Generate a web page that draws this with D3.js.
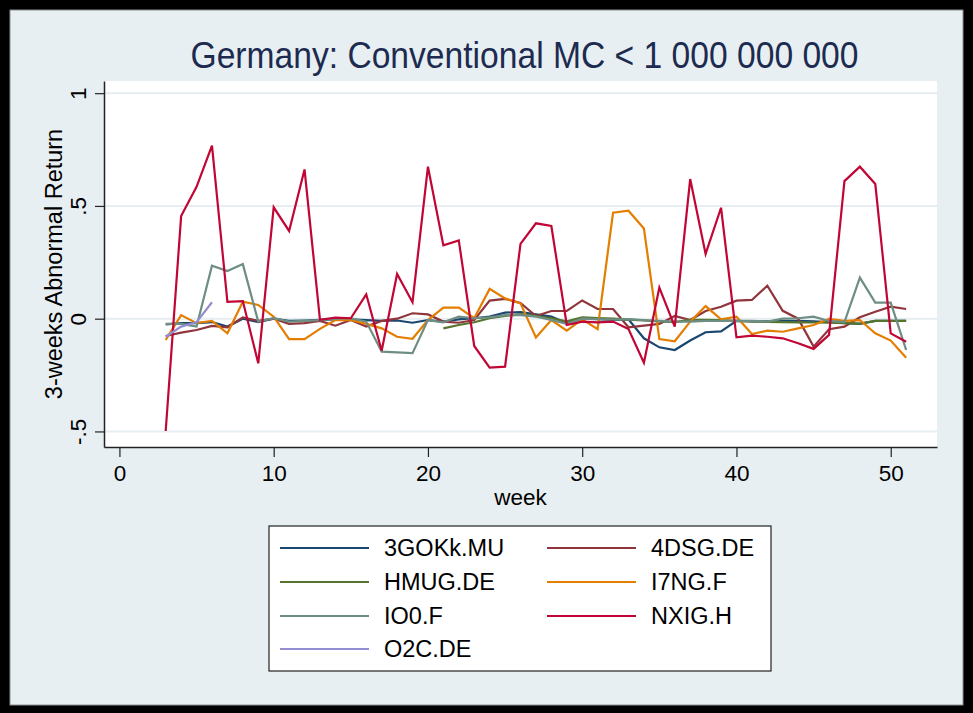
<!DOCTYPE html>
<html>
<head>
<meta charset="utf-8">
<script src="https://cdn.jsdelivr.net/npm/d3@7"></script>
<style>
  body { margin: 0; background: #000; }
  svg { display: block; font-family: "Liberation Sans", Arial, sans-serif; }
</style>
</head>
<body>
<script>
// ---- data ----
const TITLE = 'Germany: Conventional MC < 1 000 000 000'
const X_TITLE = 'week'
const Y_TITLE = '3-weeks Abnormal Return'

const xTicks = [0, 10, 20, 30, 40, 50]
const yTicks = [-0.5, 0, 0.5, 1]
const yTickLabels = ['-.5', '0', '.5', '1']

const seriesNames = ['3GOKk.MU', '4DSG.DE', 'HMUG.DE', 'I7NG.F', 'IO0.F', 'NXIG.H', 'O2C.DE']
const seriesColors = ['#1a476f', '#90353b', '#55752f', '#e37e00', '#6e8e84', '#c10534', '#938dd2']
const seriesStart = [3, 3, 21, 3, 3, 3, 3]

const gokValues = [
  -0.025, -0.02, -0.02, -0.015, -0.035, 0.0, -0.015, 0.0, -0.01, -0.008,
  -0.005, -0.003, -0.003, -0.006, -0.01, -0.008, -0.018, -0.006, -0.013, -0.003,
  0.002, 0.009, 0.027, 0.029, 0.019, 0.009, -0.02, 0.0, -0.002, -0.005,
  -0.003, -0.087, -0.127, -0.139, -0.097, -0.06, -0.056, -0.01, -0.012, -0.012,
  -0.01, -0.01, -0.012, -0.015, -0.02, -0.023, -0.01, -0.01, -0.01
]
const dsgValues = [
  -0.077, -0.062, -0.05, -0.032, -0.038, 0.006, -0.01, 0.0, -0.023, -0.02,
  -0.01, -0.031, -0.006, -0.035, -0.01, 0.0, 0.024, 0.019, -0.013, -0.018,
  -0.006, 0.08, 0.088, 0.07, 0.012, 0.034, 0.034, 0.081, 0.043, 0.043,
  -0.038, -0.031, -0.023, 0.012, -0.006, 0.034, 0.053, 0.08, 0.083, 0.146,
  0.035, 0.0, -0.124, -0.047, -0.035, 0.006, 0.031, 0.053, 0.043
]
const hmugValues = [
  -0.043, -0.028, -0.016, 0.002, 0.012, 0.019, 0.012, 0.002, -0.012, 0.006,
  0.003, 0.0, -0.004, -0.008, -0.012, -0.015, -0.005, -0.005, -0.006, -0.01,
  -0.012, -0.014, -0.015, -0.016, -0.017, -0.018, -0.02, -0.022, -0.01, -0.01,
  -0.01
]
const i7ngValues = [
  -0.094, 0.016, -0.02, -0.01, -0.065, 0.075, 0.061, 0.009, -0.091, -0.091,
  -0.045, -0.006, -0.006, -0.023, -0.043, -0.08, -0.089, -0.006, 0.049, 0.049,
  0.002, 0.132, 0.09, 0.068, -0.083, -0.006, -0.053, -0.003, -0.046, 0.47,
  0.479, 0.4, -0.09, -0.1, -0.013, 0.056, -0.003, 0.009, -0.068, -0.053,
  -0.058, -0.043, -0.028, -0.001, -0.01, -0.006, -0.065, -0.097, -0.173
]
const io0Values = [
  -0.023, -0.023, -0.035, 0.235, 0.211, 0.242, -0.013, 0.002, -0.013, -0.01,
  -0.006, -0.001, 0.002, -0.013, -0.146, -0.149, -0.153, -0.006, -0.016, 0.009,
  0.002, 0.006, 0.016, 0.016, 0.009, -0.006, -0.023, 0.0, -0.002, -0.004,
  -0.002, -0.006, -0.01, -0.013, -0.013, -0.01, -0.01, -0.01, -0.01, -0.013,
  0.0, 0.002, 0.009, -0.01, -0.015, 0.182, 0.071, 0.071, -0.139
]
const nxigValues = [
  -0.498, 0.455, 0.585, 0.767, 0.075, 0.078, -0.198, 0.494, 0.389, 0.662,
  -0.005, 0.005, 0.002, 0.108, -0.142, 0.198, 0.073, 0.674, 0.325, 0.347,
  -0.121, -0.217, -0.213, 0.332, 0.423, 0.411, -0.028, -0.013, -0.016, -0.013,
  -0.046, -0.195, 0.138, -0.035, 0.619, 0.287, 0.492, -0.083, -0.075, -0.08,
  -0.087, -0.109, -0.134, -0.072, 0.61, 0.674, 0.597, -0.065, -0.102
]
const o2cValues = [-0.08, -0.035, -0.015, 0.073]

const seriesValues = [gokValues, dsgValues, hmugValues, i7ngValues, io0Values, nxigValues, o2cValues]

// ---- layout ----
const W = 973, H = 713
const plot = { left: 104, right: 937, top: 81, bottom: 447 }
const FONT = '"Liberation Sans", Arial, sans-serif'

const svg = d3.select('body').append('svg')
  .attr('width', W)
  .attr('height', H)

// frame + graph region
svg.append('rect').attr('width', W).attr('height', H).attr('fill', '#000')
svg.append('rect')
  .attr('x', 10).attr('y', 10)
  .attr('width', W - 20).attr('height', H - 18)
  .attr('fill', '#e8eff2')
  .attr('stroke', '#8a8f92')
  .attr('stroke-width', 1)

svg.append('rect')
  .attr('x', plot.left).attr('y', plot.top)
  .attr('width', plot.right - plot.left).attr('height', plot.bottom - plot.top)
  .attr('fill', '#fff')

const x = d3.scaleLinear().domain([-1, 53]).range([plot.left, plot.right])
const y = d3.scaleLinear().domain([-0.569, 1.054]).range([plot.bottom, plot.top])

// grid
svg.append('g')
  .selectAll('line')
  .data(yTicks)
  .join('line')
  .attr('x1', plot.left).attr('x2', plot.right)
  .attr('y1', d => y(d)).attr('y2', d => y(d))
  .attr('stroke', '#e6eef1')
  .attr('stroke-width', 2)

// axes
const xAxis = svg.append('g')
  .attr('transform', `translate(0,${plot.bottom})`)
  .call(d3.axisBottom(x).tickValues(xTicks).tickSize(10).tickPadding(8).tickSizeOuter(0))
xAxis.select('.domain').attr('stroke', '#222').attr('stroke-width', 1.5)
xAxis.selectAll('.tick line').attr('stroke', '#222').attr('stroke-width', 1.2)
xAxis.selectAll('.tick text')
  .attr('font-size', 22.5)
  .attr('font-family', FONT)
  .attr('fill', '#000')

const yAxis = svg.append('g')
  .attr('transform', `translate(${plot.left},0)`)
  .call(d3.axisLeft(y).tickValues(yTicks).tickSize(9).tickSizeOuter(0).tickFormat((d, i) => yTickLabels[i]))
yAxis.select('.domain').attr('stroke', '#222').attr('stroke-width', 1.5)
yAxis.selectAll('.tick line').attr('stroke', '#222').attr('stroke-width', 1.2)
yAxis.selectAll('.tick text')
  .attr('font-size', 22.5)
  .attr('font-family', FONT)
  .attr('fill', '#000')
  .attr('x', null).attr('dy', null)
  .attr('text-anchor', 'middle')
  .attr('transform', 'translate(-18,0) rotate(-90)')

// titles
svg.append('text')
  .attr('x', (plot.left + plot.right) / 2 + 4)
  .attr('y', 68)
  .attr('text-anchor', 'middle')
  .attr('font-size', 36)
  .attr('fill', '#1c2b4f')
  .attr('textLength', 668)
  .attr('lengthAdjust', 'spacingAndGlyphs')
  .text(TITLE)

svg.append('text')
  .attr('x', (plot.left + plot.right) / 2)
  .attr('y', 505)
  .attr('text-anchor', 'middle')
  .attr('font-size', 22.5)
  .text(X_TITLE)

svg.append('text')
  .attr('transform', `translate(62,${(plot.top + plot.bottom) / 2}) rotate(-90)`)
  .attr('text-anchor', 'middle')
  .attr('font-size', 23.5)
  .text(Y_TITLE)

// lines
const line = d3.line()
  .x(d => x(d.week))
  .y(d => y(d.value))

const series = seriesNames.map((name, i) => ({
  name,
  color: seriesColors[i],
  points: seriesValues[i].map((v, j) => ({ week: seriesStart[i] + j, value: v }))
}))

svg.append('g')
  .selectAll('path')
  .data(series)
  .join('path')
  .attr('d', d => line(d.points))
  .attr('fill', 'none')
  .attr('stroke', d => d.color)
  .attr('stroke-width', 2.2)

// legend
const legend = { left: 269, top: 526, width: 502, height: 145 }
const lg = svg.append('g')
lg.append('rect')
  .attr('x', legend.left).attr('y', legend.top)
  .attr('width', legend.width).attr('height', legend.height)
  .attr('fill', '#fff')
  .attr('stroke', '#222')
  .attr('stroke-width', 1.2)

const colX = [280, 547]
const rowY = [548, 582, 616, 649]

const items = lg.selectAll('g.item')
  .data(series)
  .join('g')
  .classed('item', true)
  .attr('transform', (d, i) => `translate(${colX[i % 2]},${rowY[Math.floor(i / 2)]})`)

items.append('line')
  .attr('x1', 0).attr('x2', 89)
  .attr('stroke', d => d.color)
  .attr('stroke-width', 2)

items.append('text')
  .attr('x', 104)
  .attr('dy', '0.36em')
  .attr('font-size', 23.5)
  .text(d => d.name)
</script>
</body>
</html>
